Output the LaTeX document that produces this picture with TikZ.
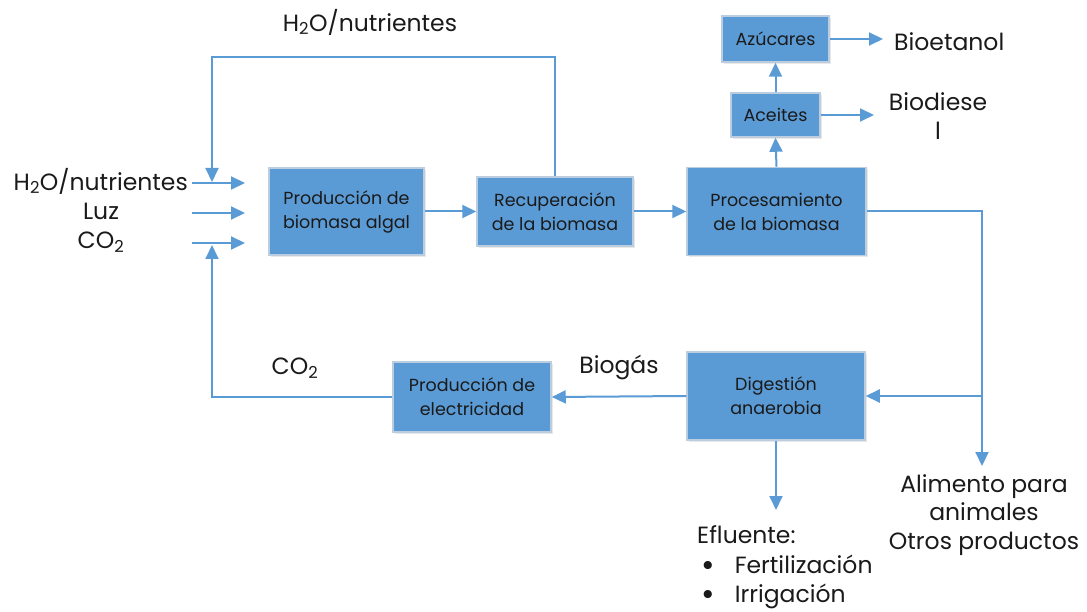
\documentclass[tikz,border=0pt]{standalone}
\usepackage{fontspec}
\setmainfont{Poppins}
\usetikzlibrary{arrows.meta,shadows}
\definecolor{boxfill}{HTML}{5B9BD5}
\definecolor{boxline}{HTML}{BCCDE0}
\definecolor{arr}{HTML}{5B9BD5}
\definecolor{txt}{HTML}{1A1A1A}
\newcommand{\bigbul}{\smash{\raisebox{-0.11em}{\scalebox{1.4}{\textbullet}}}}
\begin{document}
\begin{tikzpicture}[x=1pt,y=-1pt,
  blk/.style={draw=boxline, line width=1.5pt, fill=boxfill, inner sep=0pt, align=center,
    text=txt, font=\fontsize{17.5}{24}\selectfont,
    drop shadow={shadow xshift=2pt, shadow yshift=-2pt, opacity=0.18, fill=gray}},
  lbl/.style={inner sep=0pt, text=txt, font=\fontsize{23.5}{28.5}\selectfont, align=center},
  flow/.style={draw=arr, line width=2pt, -{Triangle[length=14pt,width=13pt]}},
  plain/.style={draw=arr, line width=2pt}]
\useasboundingbox (0,0) rectangle (1087,612);
% boxes
\node[blk, minimum width=155pt, minimum height=87pt] (prod) at (346.5,211.5) {Producción de\\biomasa algal};
\node[blk, minimum width=156pt, minimum height=69pt] (recu) at (555,211.5) {Recuperación\\de la biomasa};
\node[blk, minimum width=179pt, minimum height=88pt] (proc) at (776.5,211.5) {Procesamiento\\de la biomasa};
\node[blk, minimum width=107pt, minimum height=46pt] (azu) at (775.5,39) {Azúcares};
\node[blk, minimum width=89pt, minimum height=44pt] (ace) at (775.5,115) {Aceites};
\node[blk, minimum width=158pt, minimum height=70pt] (elec) at (472,397) {Producción de\\electricidad};
\node[blk, minimum width=178pt, minimum height=88pt] (dig) at (776,396) {Digestión\\anaerobia};
% labels
\node[lbl] (toph) at (370,22) {H\textsubscript{2}O/nutrientes};
\node[lbl, anchor=east] (inh) at (188,181) {H\textsubscript{2}O/nutrientes};
\node[lbl] (inl) at (101,211) {Luz};
\node[lbl] (inc) at (101,242) {CO\textsubscript{2}};
\node[lbl] (co2b) at (295,368) {CO\textsubscript{2}};
\node[lbl] (biog) at (619,367) {Biogás};
\node[lbl, anchor=west] (bioet) at (894,42) {Bioetanol};
\node[lbl] (biod) at (938,116) {Biodiese\\l};
\node[lbl] (alim) at (984,515) {Alimento para\\animales\\Otros productos};
\node[lbl, anchor=west] (eflu) at (697,535) {Efluente:};
\node[lbl, anchor=west, align=left, font=\fontsize{23.5}{29}\selectfont] (list) at (701,582) {\bigbul\hspace{20pt}Fertilización\\\bigbul\hspace{20pt}Irrigación};
% coordinates
\coordinate (tl) at (212,57);
\coordinate (tipa) at (212,182);
\coordinate (tipb) at (212,245);
\coordinate (i1s) at (192,183); \coordinate (i1e) at (245,183);
\coordinate (i2s) at (192,213); \coordinate (i2e) at (245,213);
\coordinate (i3s) at (192,243); \coordinate (i3e) at (245,243);
\coordinate (j) at (982,396);
\coordinate (aend) at (982,466);
\coordinate (dend) at (776,510);
\coordinate (bioe) at (883,39);
\coordinate (biode) at (874,115);
% connectors
\draw[flow] (i1s) -- (i1e);
\draw[flow] (i2s) -- (i2e);
\draw[flow] (i3s) -- (i3e);
\draw[flow] (recu.north) |- (tl) -- (tipa);
\draw[flow] (elec.west) -| (tipb);
\draw[flow] (prod.east) -- (recu.west);
\draw[flow] (recu.east) -- (proc.west);
\draw[flow] (proc.north) -- (ace.south);
\draw[flow] (ace.north) -- (azu.south);
\draw[flow] (azu.east) -- (bioe);
\draw[flow] (ace.east) -- (biode);
\draw[flow] (proc.east) -| (aend);
\draw[flow] (j) -- (dig.east);
\draw[flow] (dig.west) -- (elec.east);
\draw[flow] (dig.south) -- (dend);
\end{tikzpicture}
\end{document}
